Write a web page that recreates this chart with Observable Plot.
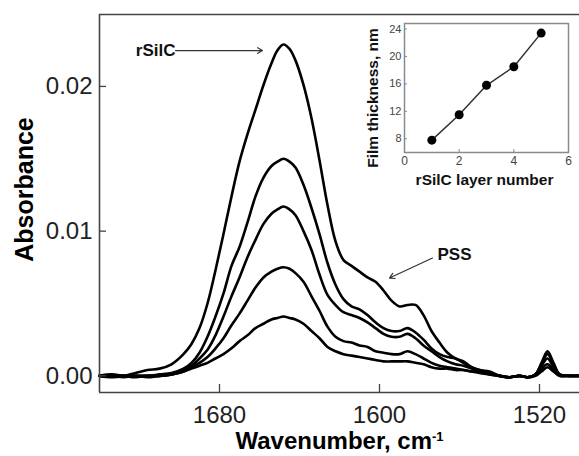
<!DOCTYPE html>
<html><head><meta charset="utf-8">
<script src="https://cdn.jsdelivr.net/npm/d3@7"></script>
<script src="https://cdn.jsdelivr.net/npm/@observablehq/plot@0.6"></script>
<style>
html,body{margin:0;padding:0;background:#fff;}
#wrap{position:relative;width:579px;height:456px;overflow:hidden;font-family:"Liberation Sans",Arial,sans-serif;}
#wrap svg{position:absolute;}
</style></head><body><div id="wrap"></div>
<script>
// Main spectrum data (wavenumber in cm-1, absorbance for 5 samples)
const wavenumber = [1740,1734,1728,1722,1716,1710,1704,1698,1694,1690,1686,1682,1678,1674,1670,1666,1662,1658,1654,1651,1648,1645,1642,1638,1634,1630,1626,1622,1618,1614,1610,1606,1602,1598,1594,1590,1586,1582,1578,1574,1570,1566,1562,1558,1554,1550,1545,1540,1535,1530,1526,1522,1519,1516,1513,1510,1505,1500];
const spectrum1 = [0.0000,-0.0001,0.0000,0.0002,0.0004,0.0005,0.0008,0.0015,0.0022,0.0033,0.0050,0.0073,0.0098,0.0124,0.0148,0.0167,0.0184,0.0201,0.0216,0.0225,0.0229,0.0226,0.0218,0.0201,0.0178,0.0149,0.0118,0.0093,0.0080,0.0076,0.0072,0.0068,0.0065,0.0059,0.0052,0.0048,0.0049,0.0049,0.0042,0.0031,0.0023,0.0016,0.0012,0.0010,0.0006,0.0004,0.0003,0.0000,-0.0001,0.0000,-0.0001,0.0001,0.0009,0.0017,0.0009,0.0001,0.0000,0.0000];
const spectrum2 = [0.0000,0.0000,-0.0001,0.0000,0.0000,0.0001,0.0002,0.0005,0.0009,0.0016,0.0027,0.0041,0.0057,0.0076,0.0089,0.0106,0.0124,0.0137,0.0145,0.0148,0.0150,0.0148,0.0144,0.0132,0.0116,0.0098,0.0078,0.0063,0.0053,0.0048,0.0046,0.0042,0.0037,0.0033,0.0031,0.0031,0.0033,0.0030,0.0025,0.0019,0.0015,0.0013,0.0012,0.0009,0.0006,0.0004,0.0002,0.0000,-0.0001,0.0000,-0.0001,0.0001,0.0008,0.0015,0.0008,0.0001,0.0000,0.0000];
const spectrum3 = [0.0000,0.0001,0.0000,-0.0001,0.0000,0.0000,0.0001,0.0004,0.0007,0.0012,0.0018,0.0028,0.0041,0.0055,0.0068,0.0082,0.0094,0.0105,0.0112,0.0115,0.0117,0.0115,0.0111,0.0100,0.0087,0.0070,0.0056,0.0049,0.0044,0.0042,0.0040,0.0037,0.0033,0.0029,0.0027,0.0027,0.0029,0.0026,0.0021,0.0017,0.0013,0.0010,0.0008,0.0007,0.0005,0.0003,0.0002,0.0000,-0.0001,0.0000,-0.0001,0.0001,0.0007,0.0012,0.0006,0.0001,0.0000,0.0000];
const spectrum4 = [0.0000,0.0000,0.0000,0.0000,-0.0001,0.0000,0.0001,0.0003,0.0006,0.0009,0.0013,0.0019,0.0026,0.0035,0.0043,0.0052,0.0061,0.0068,0.0072,0.0074,0.0075,0.0074,0.0071,0.0065,0.0055,0.0045,0.0034,0.0027,0.0024,0.0023,0.0021,0.0020,0.0017,0.0016,0.0015,0.0015,0.0017,0.0015,0.0012,0.0009,0.0007,0.0006,0.0005,0.0004,0.0003,0.0002,0.0001,0.0000,-0.0001,0.0000,-0.0001,0.0001,0.0005,0.0008,0.0004,0.0000,0.0000,0.0000];
const spectrum5 = [0.0000,0.0000,0.0000,0.0000,0.0000,0.0000,0.0001,0.0003,0.0005,0.0007,0.0009,0.0012,0.0015,0.0019,0.0024,0.0028,0.0033,0.0036,0.0039,0.0040,0.0041,0.0040,0.0039,0.0036,0.0031,0.0026,0.0020,0.0017,0.0015,0.0014,0.0013,0.0012,0.0011,0.0010,0.0010,0.0010,0.0010,0.0009,0.0008,0.0006,0.0005,0.0005,0.0004,0.0004,0.0003,0.0003,0.0001,0.0000,-0.0001,0.0000,-0.0001,0.0000,0.0003,0.0006,0.0003,0.0000,0.0000,0.0000];

const xTicks = [1680, 1600, 1520];
const yTicks = [0, 0.01, 0.02];
const xDomain = [1740, 1500];
const yDomain = [-0.00115, 0.02497];

// Annotations (data coordinates)
const noteLabels = ["rSilC", "PSS"];
const noteWn = [1702, 1571];
const noteA = [0.02248, 0.0084];
const arrowFromWn = [1702, 1573.5];
const arrowFromA = [0.02248, 0.00814];
const arrowToWn = [1658.5, 1595];
const arrowToA = [0.02248, 0.00676];

// Inset data
const layerNumber = [1, 2, 3, 4, 5];
const filmThickness = [7.8, 11.5, 15.8, 18.5, 23.4];
const insetXTicks = [0, 2, 4, 6];
const insetYTicks = [8, 12, 16, 20, 24];

const series = [spectrum1, spectrum2, spectrum3, spectrum4, spectrum5];
const rows = series.flatMap((vals, s) => vals.map((a, j) => ({wn: wavenumber[j], a, s})));
const notes = noteLabels.map((t, i) => ({t, wn: noteWn[i], a: noteA[i]}));
const arrows = arrowFromWn.map((w, i) => ({x1: w, y1: arrowFromA[i], x2: arrowToWn[i], y2: arrowToA[i]}));
const inset = layerNumber.map((n, i) => ({n, t: filmThickness[i]}));

const mT = 14, mB = 64, mL = 99, mR = 0, W = 579, H = 456;
const frameH = H - mT - mB, frameW = W - mL - mR;

const main = Plot.plot({
  width: W, height: H, marginLeft: mL, marginRight: mR, marginTop: mT, marginBottom: mB,
  style: {fontFamily: "'Liberation Sans', Arial, sans-serif", background: "white", color: "#000"},
  x: {domain: xDomain},
  y: {domain: yDomain},
  marks: [
    Plot.line(rows, {x: "wn", y: "a", z: "s", stroke: "#000", strokeWidth: 2.6, curve: "catmull-rom", strokeLinejoin: "round"}),
    Plot.ruleX([xDomain[0]], {stroke: "#444", strokeWidth: 1.6}),
    Plot.ruleY([yDomain[0], yDomain[1]], {stroke: "#444", strokeWidth: 1.6}),
    Plot.tickX(xTicks, {x: d => d, insetTop: frameH - 8, stroke: "#444", strokeWidth: 1.3}),
    Plot.tickY(yTicks, {y: d => d, insetRight: frameW - 7, stroke: "#444", strokeWidth: 1.3}),
    Plot.axisX({ticks: xTicks, tickSize: 0, tickPadding: 13, fontSize: 24, fill: "#222", tickFormat: d => String(d), label: null}),
    Plot.axisY({ticks: yTicks, tickSize: 0, tickPadding: 7, fontSize: 24, fill: "#222", tickFormat: d3.format(".2f"), label: null}),
    Plot.text(["Absorbance"], {frameAnchor: "left", textAnchor: "middle", dx: -75, dy: -14, rotate: -90, fontSize: 25, fontWeight: "bold", fill: "#000"}),
    Plot.text(["Wavenumber, cm"], {frameAnchor: "bottom", textAnchor: "middle", dy: 56, lineAnchor: "bottom", fontSize: 24, fontWeight: "bold", fill: "#000"}),
    Plot.arrow(arrows, {x1: "x1", y1: "y1", x2: "x2", y2: "y2", stroke: "#333", strokeWidth: 1.2, headLength: 7}),
    Plot.text(notes.slice(0, 1), {x: "wn", y: "a", text: "t", textAnchor: "end", fontSize: 17, fontWeight: "bold", fill: "#111"}),
    Plot.text(notes.slice(1), {x: "wn", y: "a", text: "t", textAnchor: "start", fontSize: 17, fontWeight: "bold", fill: "#111"})
  ]
});
main.style.left = "0px"; main.style.top = "0px";
d3.select(main).selectAll("text").filter(function(){ return this.textContent === "Wavenumber, cm"; })
  .append("tspan").attr("dy", "-0.55em").attr("font-size", "13px").text("-1");

const insetPlot = Plot.plot({
  width: 239, height: 200, marginLeft: 64, marginRight: 11, marginTop: 23, marginBottom: 48,
  style: {fontFamily: "'Liberation Sans', Arial, sans-serif", background: "none", overflow: "visible"},
  x: {domain: [0, 6]},
  y: {domain: [6, 24.8]},
  marks: [
    Plot.frame({stroke: "#8a8a8a", strokeWidth: 1.5}),
    Plot.tickX(insetXTicks, {x: d => d, insetTop: 129 - 3, stroke: "#888"}),
    Plot.tickY(insetYTicks, {y: d => d, insetRight: 164 - 3, stroke: "#888"}),
    Plot.axisX({ticks: insetXTicks, tickSize: 0, tickPadding: 4, fontSize: 12, fill: "#444", tickFormat: d => String(d), label: null}),
    Plot.axisY({ticks: insetYTicks, tickSize: 0, tickPadding: 3, fontSize: 11, fill: "#444", tickFormat: d => String(d), label: null}),
    Plot.line(inset, {x: "n", y: "t", stroke: "#333", strokeWidth: 1.5}),
    Plot.dot(inset, {x: "n", y: "t", r: 4.5, fill: "#000"}),
    Plot.text(["Film thickness, nm"], {frameAnchor: "left", textAnchor: "middle", dx: -31, dy: 10, rotate: -90, fontSize: 15.5, fontWeight: "bold", fill: "#111"}),
    Plot.text(["rSilC layer number"], {frameAnchor: "bottom", textAnchor: "middle", dx: -2, dy: 32, fontSize: 15.5, fontWeight: "bold", fill: "#111"})
  ]
});
insetPlot.style.left = "340px"; insetPlot.style.top = "0px";

const wrap = document.getElementById("wrap");
wrap.appendChild(main);
wrap.appendChild(insetPlot);
</script>
</body></html>
